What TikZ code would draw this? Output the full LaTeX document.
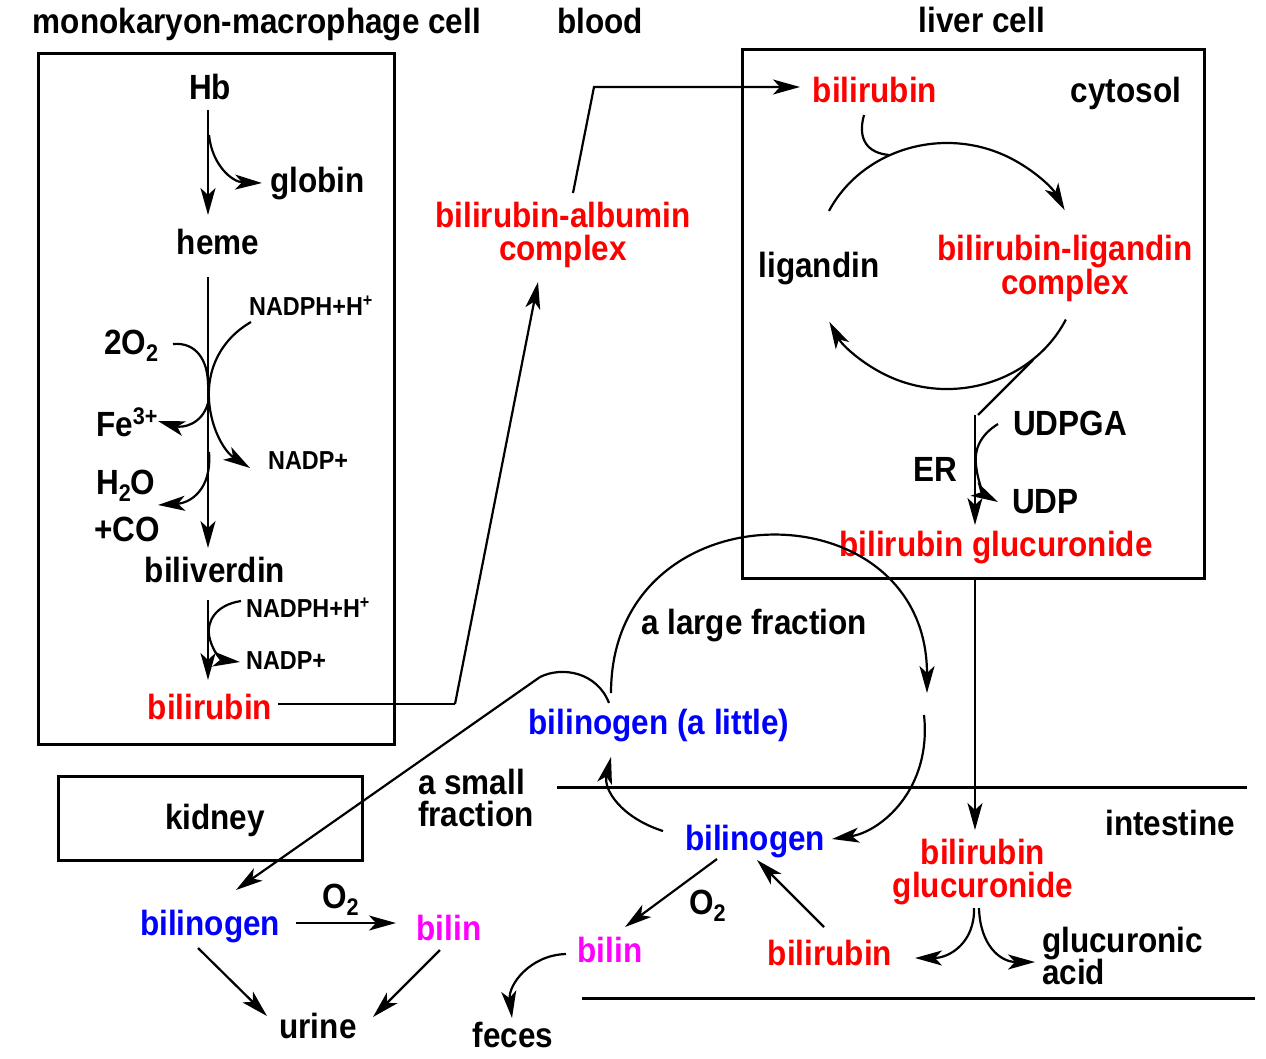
\documentclass[tikz,border=0pt]{standalone}
\usepackage{fontspec}
\setmainfont{Liberation Sans}[FakeStretch=0.9]
\usetikzlibrary{arrows.meta,calc}
\definecolor{cred}{RGB}{255,0,0}
\definecolor{cblue}{RGB}{0,0,255}
\definecolor{cmag}{RGB}{255,0,255}
\newcommand\mysub[1]{\raisebox{-7pt}{\fontsize{24}{24}\selectfont #1}}
\newcommand\mysup[1]{\raisebox{12pt}{\fontsize{24}{24}\selectfont #1}}
\newcommand\smsup[1]{\raisebox{9pt}{\fontsize{18}{18}\selectfont #1}}
\begin{document}
\begin{tikzpicture}[x=1pt,y=-1pt,
 txt/.style={inner sep=0pt, font=\fontsize{35}{38}\selectfont\bfseries, anchor=base, yshift=-2pt},
 ltxt/.style={txt, anchor=base west},
 rtx/.style={txt, text=cred},
 btx/.style={txt, text=cblue},
 mtx/.style={txt, text=cmag},
 sm/.style={inner sep=0pt, font=\fontsize{26}{28}\selectfont\bfseries, anchor=base west, yshift=-2pt},
 arr/.style={line width=2.2pt, -{Stealth[length=27pt 0,width=15pt 0,inset=7pt 0]}},
 ln/.style={line width=2.2pt},
 box/.style={line width=3pt}]
\useasboundingbox (0,0) rectangle (1266,1058);

% titles
\node[txt] (t1) at (257,31) {monokaryon-macrophage cell};
\node[txt] (t2) at (600,31) {blood};
\node[txt] (t3) at (982,30) {liver cell};

% boxes
\draw[box] (38,53) rectangle (394,744);
\draw[box] (742,49) rectangle (1204,578);
\draw[box] (58,776) rectangle (362,860);
\node[txt] (kidney) at (215,827) {kidney};

% left cell
\node[txt] (hb) at (210,97) {Hb};
\node[ltxt] (globin) at (270,190) {globin};
\node[txt] (heme) at (218,252) {heme};
\node[sm] (nadph1) at (249,313) {NADPH+H\smsup{+}};
\node[ltxt] (o2a) at (104,352) {2O\mysub{2}};
\node[ltxt] (fe) at (96,434) {Fe\mysup{3+}};
\node[sm] (nadp1) at (268,467) {NADP+};
\node[ltxt] (h2o) at (96,492) {H\mysub{2}O};
\node[ltxt] (co) at (94,539) {+CO};
\node[txt] (biliverdin) at (215,580) {biliverdin};
\node[sm] (nadph2) at (246,615) {NADPH+H\smsup{+}};
\node[sm] (nadp2) at (246,667) {NADP+};
\node[rtx] (bil1) at (210,717) {bilirubin};

\coordinate (a1) at (208,110); \coordinate (a1e) at (208,215);
\coordinate (a2) at (208,277); \coordinate (a2e) at (208,548);
\coordinate (a3) at (208,600); \coordinate (a3e) at (208,680);
\draw[arr] (a1) -- (a1e);
\draw[arr] (a2) -- (a2e);
\draw[arr] (a3) -- (a3e);
\draw[arr] (209,135) .. controls (212,165) and (232,182) .. (262,183);
\draw[ln] (173,344) .. controls (196,342) and (208,360) .. (208,385);
\draw[arr] (208,403) .. controls (202,425) and (182,428) .. (158,421);
\draw[arr] (251,322) .. controls (220,340) and (207,370) .. (209,400) .. controls (211,430) and (225,452) .. (250,468);
\draw[arr] (209,452) .. controls (212,490) and (190,503) .. (158,505);
\draw[arr] (241,601) .. controls (215,605) and (207,622) .. (209,635) .. controls (212,652) and (222,660) .. (240,662);

% blood
\node[rtx] (alb1) at (563,225) {bilirubin-albumin};
\node[rtx] (alb2) at (563,258) {complex};
\coordinate (b1) at (278,704); \coordinate (b2) at (455,704); \coordinate (b3) at (538,282);
\draw[ln] (b1) -- (b2);
\draw[arr] (b2) -- (b3);
\coordinate (c1) at (573,193); \coordinate (c2) at (594,87); \coordinate (c3) at (800,87);
\draw[arr] (c1) -- (c2) -- (c3);

% liver cell
\node[rtx] (bil2) at (875,100) {bilirubin};
\node[txt] (cytosol) at (1126,100) {cytosol};
\node[txt] (ligandin) at (819,275) {ligandin};
\node[rtx] (blc1) at (1065,258) {bilirubin-ligandin};
\node[rtx] (blc2) at (1065,292) {complex};
\node[ltxt] (udpga) at (1013,433) {UDPGA};
\node[txt] (er) at (935,479) {ER};
\node[ltxt] (udp) at (1012,511) {UDP};
\node[rtx] (bg1) at (996,554) {bilirubin glucuronide};

\coordinate (cc) at (947,266);
\draw[ln] (864,115) .. controls (857,140) and (868,153) .. (889,155);
\draw[arr] ($(cc)+(206.6:132 and 123)$) arc[start angle=206.6, end angle=333, x radius=132, y radius=123];
\draw[arr] ($(cc)+(25.8:132 and 123)$) arc[start angle=25.8, end angle=153, x radius=132, y radius=123];
\draw[ln] (1033,360) -- (978,415);
\coordinate (er1) at (975,415); \coordinate (er2) at (975,525);
\draw[arr] (er1) -- (er2);
\draw[arr] (998,424) .. controls (980,435) and (974,450) .. (976,465) .. controls (978,484) and (985,495) .. (998,502);
\coordinate (g1) at (975,578); \coordinate (g2) at (975,830);
\draw[arr] (g1) -- (g2);

% intestine
\draw[box] (557,787) -- (1247,787);
\draw[box] (582,998) -- (1255,998);
\node[txt] (intestine) at (1170,833) {intestine};
\node[txt] (large) at (754,632) {a large fraction};
\node[btx] (bilit) at (659,732) {bilinogen (a little)};
\node[ltxt] (small1) at (418,792) {a small};
\node[ltxt] (small2) at (418,824) {fraction};
\node[btx] (bng2) at (755,848) {bilinogen};
\node[rtx] (bgi1) at (983,862) {bilirubin};
\node[rtx] (bgi2) at (983,895) {glucuronide};
\node[ltxt] (o2c) at (689,912) {O\mysub{2}};
\node[mtx] (bilin2) at (610,960) {bilin};
\node[rtx] (bil3) at (830,963) {bilirubin};
\node[ltxt] (gluc1) at (1042,950) {glucuronic};
\node[ltxt] (gluc2) at (1042,982) {acid};
\node[txt] (feces) at (513,1045) {feces};

\draw[arr] (611,693) .. controls (611,485) and (927,485) .. (927,693);
\draw[arr] (924,715) .. controls (932,790) and (880,832) .. (832,839);
\draw[arr] (663,831) .. controls (622,818) and (603,790) .. (611,757);
\coordinate (h1) at (540,677); \coordinate (h2) at (236,890);
\draw[ln] (609,703) .. controls (597,672) and (562,666) .. (h1);
\draw[arr] (h1) -- (h2);
\draw[arr] (717,859) -- (625,927);
\draw[arr] (824,927) -- (757,860);
\draw[arr] (566,954) .. controls (530,955) and (508,985) .. (512,1018);
\draw[arr] (974,908) .. controls (975,942) and (950,958) .. (915,958);
\draw[arr] (979,908) .. controls (980,945) and (1000,962) .. (1035,962);

% kidney / urine
\node[btx] (bng1) at (210,933) {bilinogen};
\node[ltxt] (o2b) at (322,906) {O\mysub{2}};
\node[mtx] (bilin1) at (449,938) {bilin};
\node[txt] (urine) at (318,1036) {urine};
\draw[arr] (296,923) -- (396,923);
\draw[arr] (198,948) -- (267,1016);
\draw[arr] (440,950) -- (373,1017);
\end{tikzpicture}
\end{document}
